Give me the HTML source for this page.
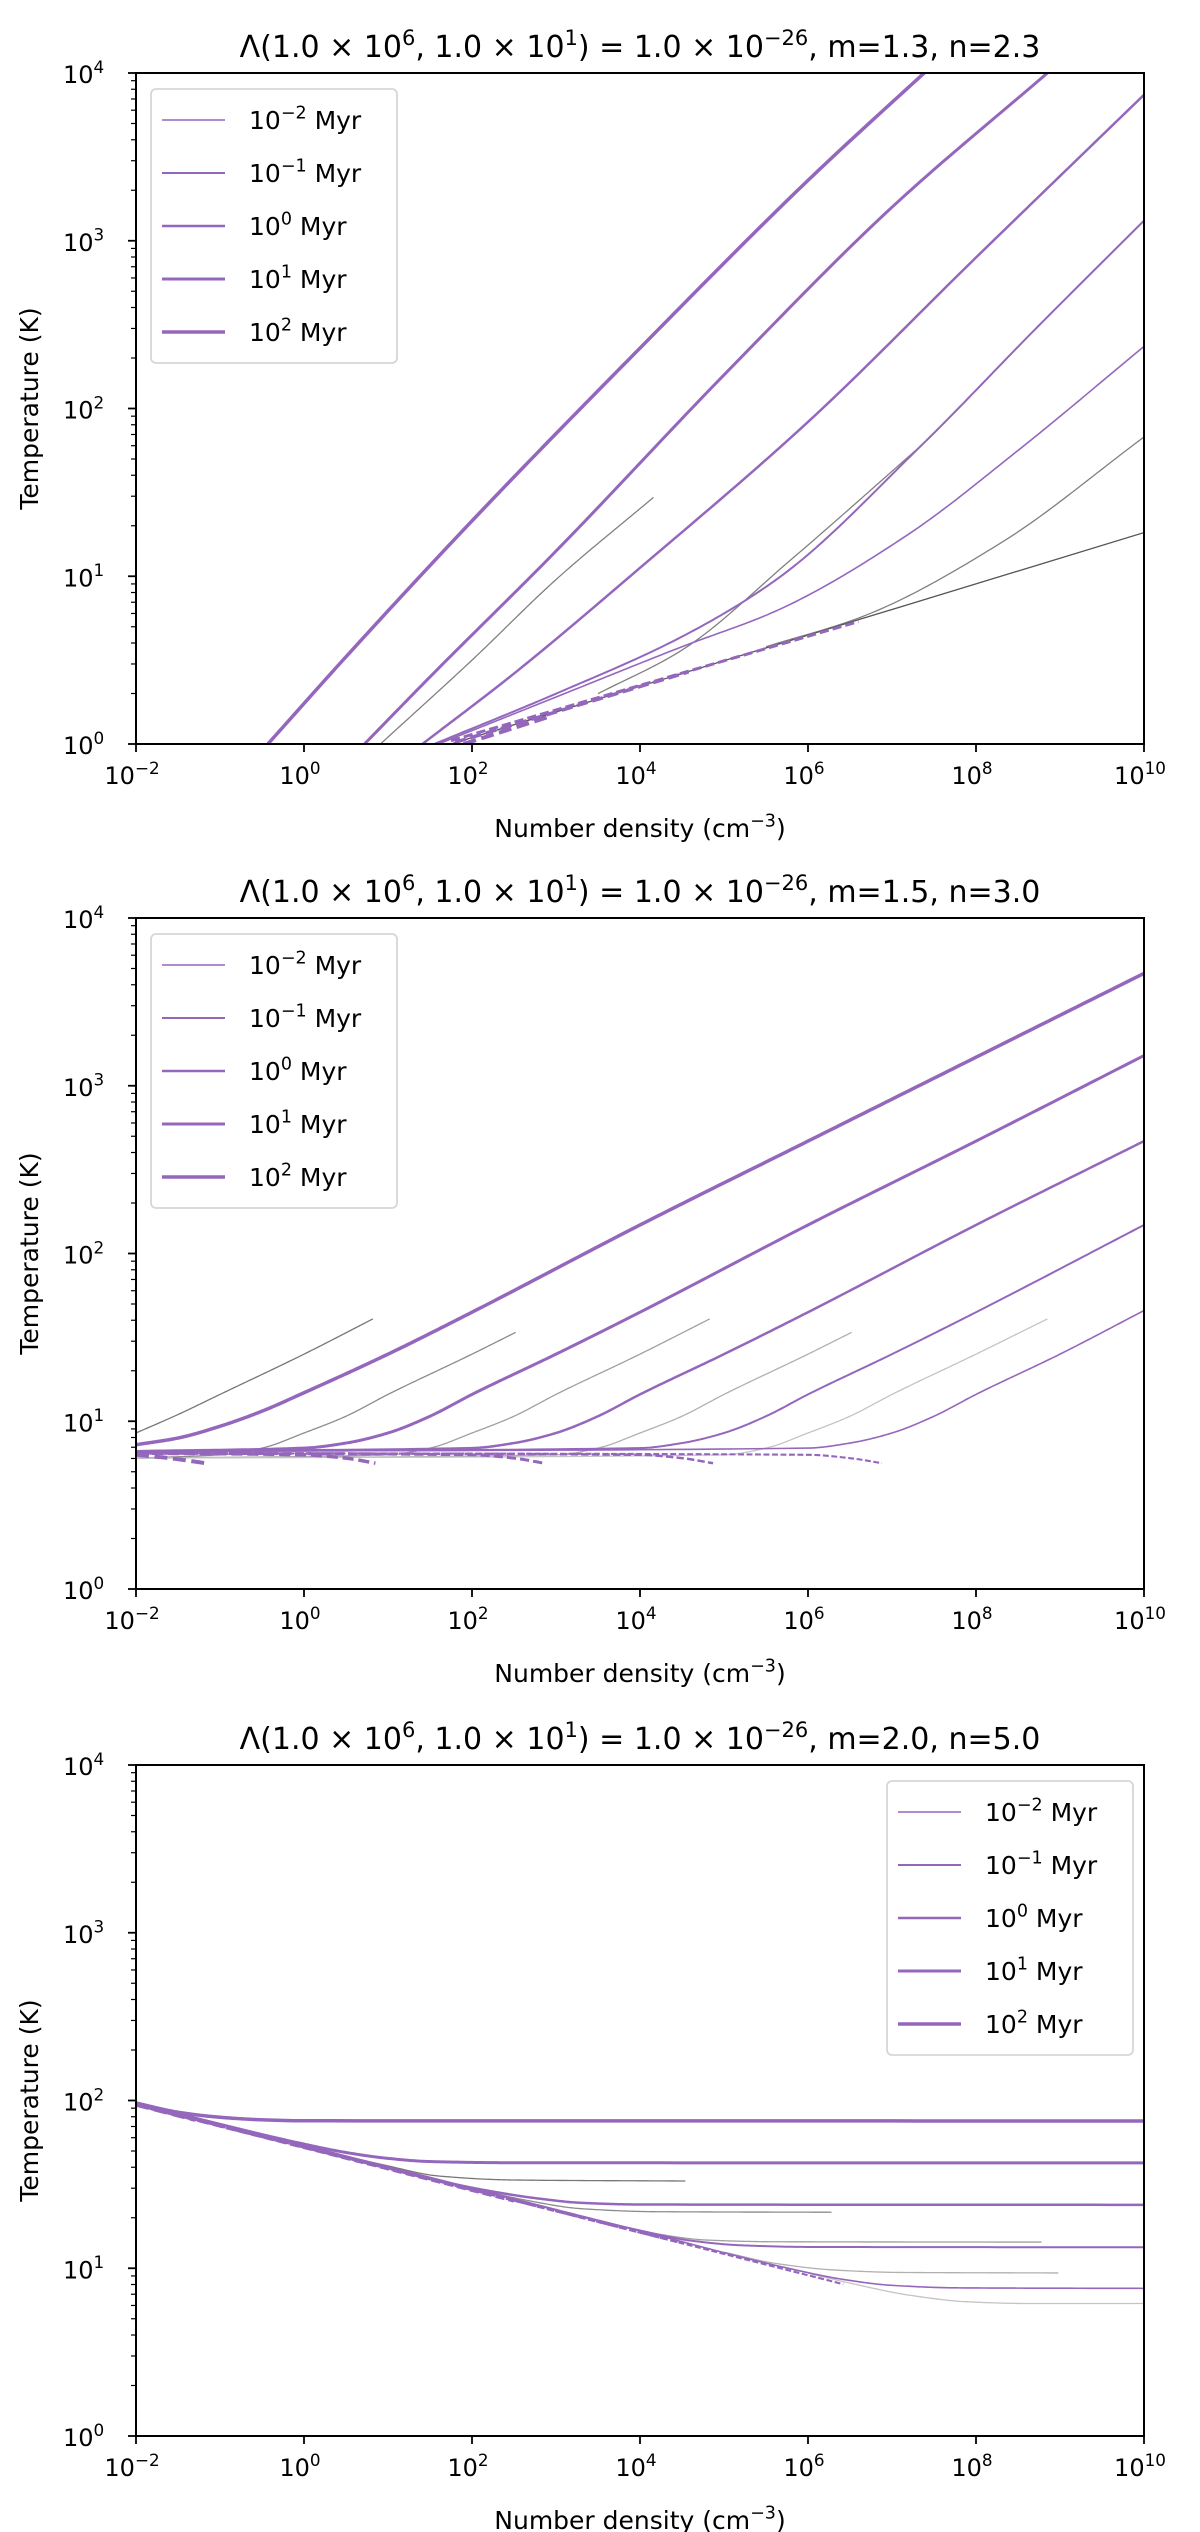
<!DOCTYPE html>
<html><head><meta charset="utf-8"><style>
html,body{margin:0;padding:0;background:#fff;}
svg{display:block;font-family:"DejaVu Sans","Liberation Sans",sans-serif;}
</style></head><body>
<svg id="fig" width="1200" height="2532" viewBox="0 0 1200 2532" xmlns="http://www.w3.org/2000/svg"></svg>
<script>
// ---------- data (log10 n, log10 T) ----------
const panelTitles = ["m=1.3, n=2.3","m=1.5, n=3.0","m=2.0, n=5.0"];
const xTickExps = [-2,0,2,4,6,8,10];
const yTickExps = [0,1,2,3,4];
const legendTimes = ["−2","−1","0","1","2"];

const p1Purple = [
 [[1.6,0],[3,0.28],[4.5,0.58],[5.65,0.80],[7.18,1.245],[8.5,1.75],[10,2.37]],
 [[1.55,0],[3,0.3],[4.5,0.64],[5.65,0.99],[7.35,1.78],[8.7,2.47],[10,3.12]],
 [[1.41,0],[2.5,0.42],[4,1.05],[6,1.92],[8,2.9],[10,3.87]],
 [[0.72,0],[1.5,0.4],[3,1.15],[5,2.2],[7,3.2],[8.85,4.0]],
 [[-0.43,0],[0.5,0.52],[2,1.33],[4,2.36],[6,3.36],[7.6,4.1]]
];
const p1Gray = [
 [[0.91,0],[2,0.5],[3,0.98],[4.16,1.47]],
 [[3.5,0.3],[4.5,0.56],[5.8,1.1],[7.35,1.78]],
 [[5.5,0.58],[6.65,0.76],[8.3,1.2],[10,1.83]],
 [[1.75,0],[10,1.26]]
];
const p1Dash = [
 [[1.75,0.02],[6.6,0.73]],
 [[1.8,0.01],[4.58,0.43]],
 [[1.9,0],[2.9,0.16]]
];

const p2Purple = [
 [[-2,0.82],[6,0.84],[6.5,0.87],[7,0.93],[7.5,1.03],[8,1.16],[9,1.4],[10,1.66]],
 [[-2,0.82],[4,0.84],[4.5,0.87],[5,0.93],[5.5,1.03],[6,1.16],[7,1.4],[8,1.65],[10,2.17]],
 [[-2,0.82],[2,0.84],[2.5,0.87],[3,0.93],[3.5,1.03],[4,1.16],[5,1.4],[6,1.65],[8,2.17],[10,2.67]],
 [[-2,0.82],[0,0.84],[0.5,0.87],[1,0.93],[1.5,1.03],[2,1.16],[3,1.4],[4,1.65],[6,2.17],[8,2.67],[10,3.18]],
 [[-2,0.86],[-1.5,0.9],[-1,0.97],[-0.5,1.06],[0,1.17],[1,1.4],[2,1.65],[4,2.17],[6,2.67],[8,3.17],[10,3.67]]
];
const p2Gray = [
 [[-2,0.93],[-1.5,1.04],[-1,1.16],[0,1.4],[0.82,1.61]],
 [[-2,0.78],[-1,0.8],[-0.5,0.84],[0,0.93],[0.5,1.03],[1,1.16],[2,1.4],[2.52,1.53]],
 [[-2,0.78],[1,0.8],[1.5,0.84],[2,0.93],[2.5,1.03],[3,1.16],[4,1.4],[4.83,1.61]],
 [[-2,0.78],[3,0.8],[3.5,0.84],[4,0.93],[4.5,1.03],[5,1.16],[6,1.4],[6.52,1.53]],
 [[-2,0.78],[5,0.8],[5.5,0.84],[6,0.93],[6.5,1.03],[7,1.16],[8,1.4],[8.85,1.61]]
];
const p2Dash = [
 [[-2,0.81],[6,0.80],[6.5,0.78],[6.88,0.75]],
 [[-2,0.81],[4,0.80],[4.5,0.78],[4.87,0.75]],
 [[-2,0.81],[2,0.80],[2.5,0.78],[2.86,0.75]],
 [[-2,0.81],[0,0.80],[0.5,0.78],[0.85,0.75]],
 [[-2,0.80],[-1.6,0.78],[-1.17,0.75]]
];

const p3Purple = [
 [[-2,1.985],[0,1.731],[2,1.477],[4,1.223],[5.8,0.996],[6.4,0.935],[7,0.898],[7.8,0.883],[10,0.88]],
 [[-2,1.985],[0,1.731],[2,1.477],[4,1.225],[4.6,1.165],[5.2,1.137],[6,1.127],[10,1.125]],
 [[-2,1.985],[0,1.731],[2,1.48],[2.8,1.415],[3.3,1.39],[4,1.38],[10,1.378]],
 [[-2,1.985],[-1,1.858],[0,1.74],[0.5,1.69],[1,1.655],[1.5,1.636],[2.5,1.629],[10,1.628]],
 [[-2,1.985],[-1.5,1.93],[-1,1.90],[-0.5,1.885],[0,1.879],[10,1.878]]
];
const p3Gray = [
 [[0,1.731],[1,1.61],[1.6,1.55],[2.5,1.526],[4.54,1.52]],
 [[2,1.477],[2.6,1.41],[3.3,1.355],[4.2,1.337],[6.28,1.334]],
 [[3.5,1.287],[4.2,1.205],[4.8,1.168],[5.6,1.158],[8.78,1.156]],
 [[5,1.096],[5.6,1.03],[6.3,0.99],[7.1,0.975],[8.98,0.972]],
 [[6,0.97],[6.6,0.9],[7.2,0.84],[7.9,0.80],[8.6,0.79],[10,0.79]]
];
const p3Dash = [
 [[-2,1.975],[6.42,0.905]],
 [[-2,1.975],[4.5,1.15]],
 [[-2,1.975],[2.5,1.40]],
 [[-2,1.975],[0.5,1.66]],
 [[-2,1.975],[-1.3,1.885]]
];

// ---------- layout ----------
const NS = "http://www.w3.org/2000/svg";
const svg = document.getElementById('fig');
const X0 = 136, X1 = 1144, H = 671;
const tops = [73, 918, 1765];
const PURPLE = "#9467bd";
const widths = [1.6, 2.0, 2.5, 3.0, 3.5];
const grayCols1 = ["#808080","#808080","#808080","#555555"];
const grayCols = ["#777777","#8c8c8c","#a0a0a0","#b0b0b0","#c4c4c4"];
const legendLeft = [true, true, false];

function xs(v){ return X0 + (v + 2) / 12 * (X1 - X0); }
function ys(top, v){ return top + (4 - v) / 4 * H; }

function mk(tag, attrs, parent){
  const e = document.createElementNS(NS, tag);
  for (const k in attrs) e.setAttribute(k, attrs[k]);
  (parent || svg).appendChild(e);
  return e;
}
// monotone cubic (Fritsch-Carlson) interpolation in data space, then sampled
function pathFor(top, pts){
  const n = pts.length;
  const X = pts.map(p => p[0]), Y = pts.map(p => p[1]);
  if (n === 2){
    return "M" + xs(X[0]).toFixed(2) + "," + ys(top, Y[0]).toFixed(2) + " L" + xs(X[1]).toFixed(2) + "," + ys(top, Y[1]).toFixed(2);
  }
  const d = [], m = new Array(n);
  for (let i = 0; i < n - 1; i++) d.push((Y[i + 1] - Y[i]) / (X[i + 1] - X[i]));
  m[0] = d[0]; m[n - 1] = d[n - 2];
  for (let i = 1; i < n - 1; i++){
    if (d[i - 1] * d[i] <= 0) m[i] = 0;
    else {
      const h0 = X[i] - X[i - 1], h1 = X[i + 1] - X[i];
      const w1 = 2 * h1 + h0, w2 = h1 + 2 * h0;
      m[i] = (w1 + w2) / (w1 / d[i - 1] + w2 / d[i]);
    }
  }
  let s = "M" + xs(X[0]).toFixed(2) + "," + ys(top, Y[0]).toFixed(2);
  for (let i = 0; i < n - 1; i++){
    const h = X[i + 1] - X[i];
    const steps = 30;
    for (let k = 1; k <= steps; k++){
      const t = k / steps, t2 = t * t, t3 = t2 * t;
      const y = (2 * t3 - 3 * t2 + 1) * Y[i] + (t3 - 2 * t2 + t) * h * m[i] + (-2 * t3 + 3 * t2) * Y[i + 1] + (t3 - t2) * h * m[i + 1];
      const x = X[i] + t * h;
      s += " L" + xs(x).toFixed(2) + "," + ys(top, y).toFixed(2);
    }
  }
  return s;
}
function supText(parent, x, y, base, exp, size, anchor, extra){
  const t = mk('text', {x: x, y: y, 'font-size': size, 'text-anchor': anchor || 'start', fill: '#000'}, parent);
  t.appendChild(document.createTextNode(base));
  const sp = mk('tspan', {dy: -size * 0.42, 'font-size': size * 0.7}, t);
  sp.textContent = exp;
  if (extra){
    const sp2 = mk('tspan', {dy: size * 0.42}, t);
    sp2.textContent = extra;
  }
  return t;
}

const purpleSets = [p1Purple, p2Purple, p3Purple];
const graySets = [p1Gray, p2Gray, p3Gray];
const dashSets = [p1Dash, p2Dash, p3Dash];

tops.forEach((top, pi) => {
  const g = mk('g', {});
  
  
  const clipId = 'clip' + pi;
  const cp = mk('clipPath', {id: clipId}, g);
  mk('rect', {x: X0, y: top, width: X1 - X0, height: H}, cp);

  const tt = mk('text', {x: (X0 + X1) / 2, y: top - 16, 'font-size': 30, 'text-anchor': 'middle', fill: '#000'}, g);
  
  
  tt.appendChild(document.createTextNode("Λ(1.0 × 10"));
  let s1 = mk('tspan', {dy: -12, 'font-size': 21}, tt); s1.textContent = "6";
  let s2 = mk('tspan', {dy: 12}, tt); s2.textContent = ", 1.0 × 10";
  let s3 = mk('tspan', {dy: -12, 'font-size': 21}, tt); s3.textContent = "1";
  let s4 = mk('tspan', {dy: 12}, tt); s4.textContent = ") = 1.0 × 10";
  let s5 = mk('tspan', {dy: -12, 'font-size': 21}, tt); s5.textContent = "−26";
  let s6 = mk('tspan', {dy: 12}, tt); s6.textContent = ", " + panelTitles[pi];

  const sg = mk('g', {'clip-path': 'url(#' + clipId + ')'}, g);
  graySets[pi].forEach((pts, i) => {
    const p = mk('path', {d: pathFor(top, pts), fill: 'none', stroke: pi === 0 ? grayCols1[i] : grayCols[i], 'stroke-width': 1.3}, sg);
    
    
  });
  dashSets[pi].forEach((pts, i) => {
    const w = pi === 0 ? [2.5, 3.0, 3.5][i] : widths[i];
    const p = mk('path', {d: pathFor(top, pts), fill: 'none', stroke: PURPLE, 'stroke-width': w + 0.5, 'stroke-dasharray': (w * 3.7) + ',' + (w * 1.6)}, sg);
    
    
  });
  purpleSets[pi].forEach((pts, i) => {
    const p = mk('path', {d: pathFor(top, pts), fill: 'none', stroke: PURPLE, 'stroke-width': widths[i], 'stroke-linejoin': 'round'}, sg);
    
    
  });

  const fr = mk('rect', {x: X0, y: top, width: X1 - X0, height: H, fill: 'none', stroke: '#000', 'stroke-width': 2}, g);
  
  

  xTickExps.forEach(e => {
    const x = xs(e);
    mk('line', {x1: x, x2: x, y1: top + H, y2: top + H + 8, stroke: '#000', 'stroke-width': 1.8}, g);
    const t = supText(g, x - 4, top + H + 40, "10", String(e).replace('-', '−'), 24, 'middle');
    
    
  });
  yTickExps.forEach(e => {
    const y = ys(top, e);
    mk('line', {x1: X0 - 8, x2: X0, y1: y, y2: y, stroke: '#000', 'stroke-width': 1.8}, g);
    const t = supText(g, 63, y + 10, "10", String(e), 24, 'start');
    
    
    if (e < 4){
      for (let m = 2; m <= 9; m++){
        const ym = ys(top, e + Math.log10(m));
        mk('line', {x1: X0 - 5, x2: X0, y1: ym, y2: ym, stroke: '#000', 'stroke-width': 1.2}, g);
      }
    }
  });
  const xl = supText(g, (X0 + X1) / 2, top + H + 93, "Number density (cm", "−3", 25, 'middle', ")");
  
  
  const yl = mk('text', {x: 0, y: 0, 'font-size': 25, 'text-anchor': 'middle', fill: '#000', transform: 'translate(38,' + (top + H / 2) + ') rotate(-90)'}, g);
  yl.textContent = "Temperature (K)";
  
  

  const lx = legendLeft[pi] ? 151 : 887;
  const lg = mk('g', {}, g);
  
  
  mk('rect', {x: lx, y: top + 16, width: 246, height: 274, rx: 5, fill: '#fff', stroke: '#d6d6d6', 'stroke-width': 1.8}, lg);
  legendTimes.forEach((lt, i) => {
    const yy = top + 47 + i * 53;
    const le = mk('g', {}, lg);
    
    
    mk('line', {x1: lx + 11, x2: lx + 74, y1: yy, y2: yy, stroke: PURPLE, 'stroke-width': widths[i]}, le);
    supText(le, lx + 98, yy + 9, "10", lt, 25, 'start', " Myr");
  });
});
</script>
</body></html>
